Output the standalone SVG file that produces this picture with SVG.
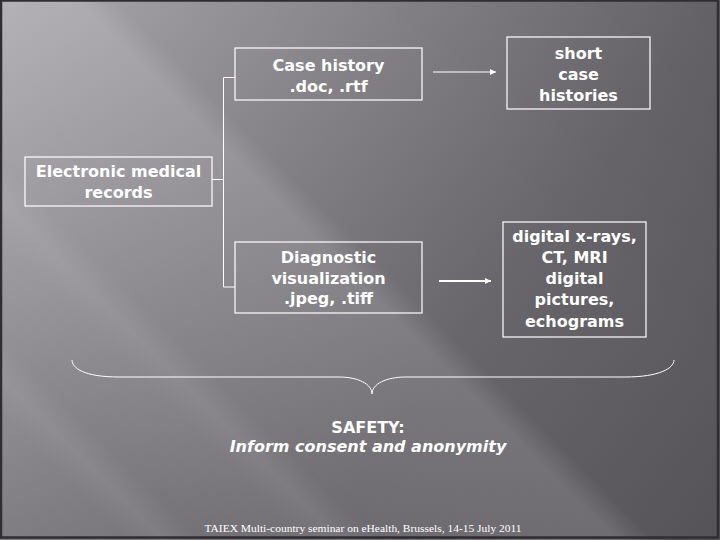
<svg xmlns="http://www.w3.org/2000/svg" width="720" height="540" viewBox="0 0 720 540">
<defs>
<linearGradient id="bg" gradientUnits="userSpaceOnUse" x1="0" y1="0" x2="720" y2="540">
<stop offset="0" stop-color="#a8a6ab"/>
<stop offset="0.36" stop-color="#7f7d82"/>
<stop offset="0.64" stop-color="#636166"/>
<stop offset="1" stop-color="#504e53"/>
</linearGradient>
<linearGradient id="streak" gradientUnits="userSpaceOnUse" x1="0" y1="540" x2="630" y2="-90">
<stop offset="0" stop-color="#fff" stop-opacity="0"/>
<stop offset="0.1" stop-color="#fff" stop-opacity="0.04"/>
<stop offset="0.13" stop-color="#fff" stop-opacity="0.1"/>
<stop offset="0.16" stop-color="#fff" stop-opacity="0.04"/>
<stop offset="0.24" stop-color="#fff" stop-opacity="0.09"/>
<stop offset="0.27" stop-color="#fff" stop-opacity="0.14"/>
<stop offset="0.3" stop-color="#fff" stop-opacity="0.08"/>
<stop offset="0.4" stop-color="#fff" stop-opacity="0.12"/>
<stop offset="0.49" stop-color="#fff" stop-opacity="0.15"/>
<stop offset="0.52" stop-color="#fff" stop-opacity="0.03"/>
<stop offset="0.7" stop-color="#fff" stop-opacity="0.03"/>
<stop offset="1" stop-color="#fff" stop-opacity="0"/>
</linearGradient>
<marker id="ah" viewBox="0 0 6 6" refX="6" refY="3" markerWidth="6" markerHeight="6" markerUnits="userSpaceOnUse" orient="auto">
<path d="M0,0 L6,3 L0,6 z" fill="#ffffff"/>
</marker>
<style>
.box{fill:none;stroke:#ffffff;stroke-width:1.2}
.t{font-family:"DejaVu Sans","Verdana",sans-serif;font-weight:bold;font-size:16px;fill:#ffffff;text-anchor:middle}
.ln{fill:none;stroke:#ffffff;stroke-width:1}
</style>
</defs>
<rect x="0" y="0" width="720" height="540" fill="url(#bg)"/>
<rect x="0" y="0" width="720" height="540" fill="url(#streak)"/>
<rect x="1" y="0.5" width="717" height="537" fill="none" stroke="#2f2e32" stroke-width="2.5"/>

<g id="connectors">
<path class="ln" d="M212,179.5 H223.5 M223.5,77.5 V287 M223.5,77.5 H235 M223.5,287 H235"/>
<line class="ln" x1="433" y1="72" x2="496" y2="72" marker-end="url(#ah)"/>
<line x1="439" y1="281" x2="491" y2="281" stroke="#ffffff" stroke-width="2" marker-end="url(#ah)"/>
<path class="ln" d="M72,360 C72,368 84,377 119,377 L339,377 C358,377 372,384 372,394 C372,384 386,377 406,377 L625,377 C660,377 674,368 674,360"/>
</g>

<g id="emr">
<rect class="box" x="25" y="157" width="187" height="49"/>
<text class="t" x="118.5" y="177">Electronic medical</text>
<text class="t" x="118.5" y="198">records</text>
</g>

<g id="case-history">
<rect class="box" x="235" y="48" width="187" height="52"/>
<text class="t" x="328.5" y="71">Case history</text>
<text class="t" x="328.5" y="92">.doc, .rtf</text>
</g>

<g id="short-case">
<rect class="box" x="507" y="37" width="143" height="72"/>
<text class="t" x="578.5" y="59">short</text>
<text class="t" x="578.5" y="80">case</text>
<text class="t" x="578.5" y="101">histories</text>
</g>

<g id="diagnostic">
<rect class="box" x="235" y="242" width="187" height="71"/>
<text class="t" x="328.5" y="263">Diagnostic</text>
<text class="t" x="328.5" y="284">visualization</text>
<text class="t" x="328.5" y="304">.jpeg, .tiff</text>
</g>

<g id="digital">
<rect class="box" x="503" y="222" width="143" height="115"/>
<text class="t" x="574.5" y="242">digital x-rays,</text>
<text class="t" x="574.5" y="263">CT, MRI</text>
<text class="t" x="574.5" y="284">digital</text>
<text class="t" x="574.5" y="305">pictures,</text>
<text class="t" x="574.5" y="327">echograms</text>
</g>

<g id="safety">
<text class="t" x="368" y="433">SAFETY:</text>
<text class="t" x="368" y="452" font-style="italic">Inform consent and anonymity</text>
</g>

<text x="363" y="532" font-family="'Liberation Serif','Times New Roman',serif" font-size="11" fill="#ffffff" text-anchor="middle" textLength="317" lengthAdjust="spacingAndGlyphs">TAIEX Multi-country seminar on eHealth, Brussels, 14-15 July 2011</text>
</svg>
